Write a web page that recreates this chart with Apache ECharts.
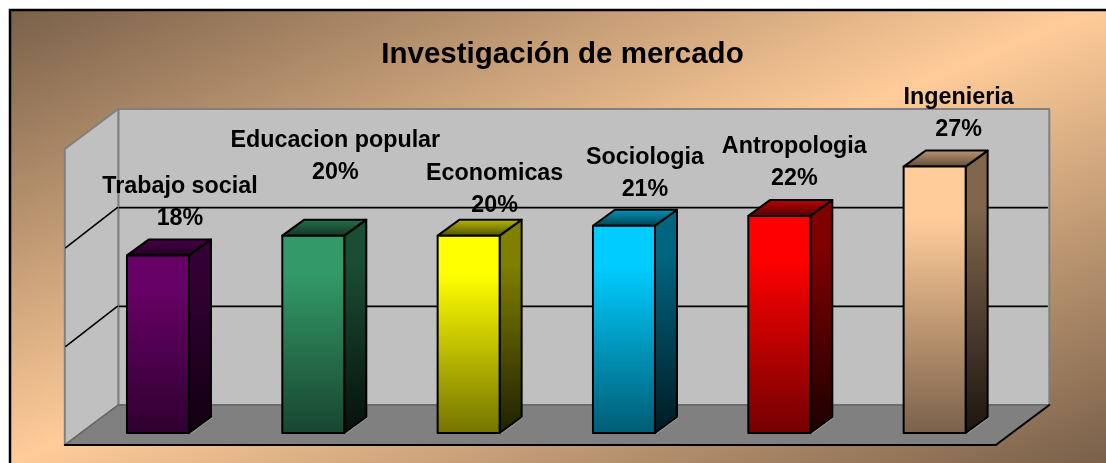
<!DOCTYPE html>
<html><head><meta charset="utf-8">
<style>html,body{margin:0;padding:0;background:#fff}#c{width:1106px;height:463px}</style>
<script src="https://cdn.jsdelivr.net/npm/echarts@6/dist/echarts.min.js"></script>
</head><body><div id="c"></div>
<script>
const chartTitle = 'Investigación de mercado';
const categories = ['Trabajo social','Educacion popular','Economicas','Sociologia','Antropologia','Ingenieria'];
const percentages = [18,20,20,21,22,27];
const gridValues = [10,20];
const axisMax = 30;

// styling, kept apart from the data: [top colour, bottom colour]
const frontColors = [['#660066','#2e002e'],['#339966','#174530'],['#ffff00','#737300'],['#00ccff','#005c73'],['#ff0000','#730000'],['#ffcc99','#7a614a']];
const sideColors = [['#330033','#100010'],['#1a4d33','#06100b'],['#808000','#1f1f00'],['#006680','#001a22'],['#800000','#1c0000'],['#80664d','#1c150f']];
const topColors = [['#4a004a','#1f001f'],['#26734d','#123325'],['#bfbf00','#4d4d00'],['#0099bf','#003d4d'],['#bf0000','#4d0000'],['#bf9973','#5c4a38']];
// hand-placed label centres relative to the bar's top centre (the source chart's labels were dragged)
const labelNudge = [[22,-85],[22,-111],[26,-78],[21,-84],[15,-85],[24,-85]];

const D_BAR=[22,-16], D_BACK=[38,-28], D_FRONT=[-15.5,12];
const vGrad=c=>({type:'linear',x:0,y:0,x2:0,y2:1,colorStops:[{offset:0,color:c[0]},{offset:0.2,color:c[0]},{offset:1,color:c[1]}]});
const ln=(a,b,stroke,w)=>({type:'line',shape:{x1:a[0],y1:a[1],x2:b[0],y2:b[1]},style:{stroke,lineWidth:w,lineCap:'round'},silent:true});
const poly=(pts,fill,stroke,w)=>({type:'polygon',shape:{points:pts},style:{fill,stroke,lineWidth:w,lineJoin:'round'},silent:true});
const add=(p,d)=>[p[0]+d[0],p[1]+d[1]];

function renderWalls(params,api){
  const half=api.size([1,0])[0]/2;
  const L=api.coord([0,0])[0]-half, R=api.coord([categories.length-1,0])[0]+half-1;
  const y0=api.coord([0,0])[1], yT=api.coord([0,axisMax])[1];
  const bl=add([L,y0],D_BACK), br=add([R,y0],D_BACK), tl=add([L,yT],D_BACK), tr=add([R,yT],D_BACK);
  const fl=add([L,y0],D_FRONT), fr=add([R,y0],D_FRONT), ft=add([L,yT],D_FRONT);
  const kids=[
    poly([tl,tr,br,bl],'#c0c0c0','#808080',2),
    poly([ft,tl,bl,fl],'#c0c0c0','#808080',2),
    poly([bl,br,fr,fl],'#808080',null,0),
    ln(bl,br,'#666666',1.5),
    ln(fl,bl,'#666666',1.5),
    ln(fl,fr,'#000000',2),
    ln(fr,br,'#000000',2)
  ];
  gridValues.forEach(v=>{
    const y=api.coord([0,v])[1];
    const b1=add([L,y],D_BACK), b2=add([R,y],D_BACK), f1=add([L,y],D_FRONT);
    kids.push(ln([b1[0]+1,b1[1]],[b2[0]-2,b2[1]],'#000000',1.6));
    kids.push(ln([f1[0]+1,f1[1]],[b1[0]-1,b1[1]],'#000000',1.6));
  });
  return {type:'group',children:kids};
}
function renderBar(params,api){
  const i=api.value(0), v=api.value(1);
  const p=api.coord([i,v]), b=api.coord([i,0]);
  const w=62, x0=p[0]-w/2, x1=p[0]+w/2, yt=p[1], yb=b[1];
  const a=[x0,yt], c=[x1,yt], d=[x1,yb], e=[x0,yb];
  return {type:'group',children:[
    poly([c,add(c,D_BAR),add(d,D_BAR),d],vGrad(sideColors[i]),'#000',2),
    ln([x1+2,yb+0.5],[x1+D_BAR[0]+1,yb+D_BAR[1]+1],'#9a9a9a',1),
    poly([a,c,add(c,D_BAR),add(a,D_BAR)],{type:'linear',x:0,y:1,x2:0,y2:0,colorStops:[{offset:0,color:topColors[i][1]},{offset:1,color:topColors[i][0]}]},'#000',2),
    poly([a,c,d,e],vGrad(frontColors[i]),'#000',2),
    {type:'text',x:p[0]+labelNudge[i][0],y:yt+labelNudge[i][1],silent:true,
     style:{text:categories[i]+'\n'+v+'%',fill:'#000',font:'bold 23.3px "Liberation Sans", Arial, sans-serif',align:'center',verticalAlign:'top',lineHeight:32}}
  ]};
}
const chart=echarts.init(document.getElementById('c'),null,{renderer:'canvas'});
chart.setOption({
  animation:false,
  backgroundColor:'#ffffff',
  title:{text:chartTitle,left:557.5,top:35,textAlign:'center',textStyle:{fontFamily:'"Liberation Sans", Arial, sans-serif',fontWeight:'bold',fontSize:29.5,color:'#000'}},
  grid:{left:80.3,top:137,width:932,height:296,containLabel:false},
  xAxis:{type:'category',data:categories,show:false},
  yAxis:{type:'value',min:0,max:axisMax,interval:10,show:false},
  graphic:[{type:'rect',z:-10,silent:true,shape:{x:10,y:10,width:1110,height:470},
    style:{fill:{type:'linear',global:true,x:10,y:10,x2:332,y2:781,colorStops:[{offset:0,color:'#7a614a'},{offset:0.5,color:'#ffcc99'},{offset:1,color:'#7a614a'}]},stroke:'#000',lineWidth:2.5}}],
  series:[
    {type:'custom',name:'walls',coordinateSystem:'cartesian2d',data:[[0,0]],renderItem:renderWalls,clip:false,z:1,silent:true},
    {type:'custom',name:'Investigación de mercado',coordinateSystem:'cartesian2d',data:percentages.map((v,i)=>[i,v]),encode:{x:0,y:1},renderItem:renderBar,clip:false,z:2,silent:true}
  ]
});
</script></body></html>
